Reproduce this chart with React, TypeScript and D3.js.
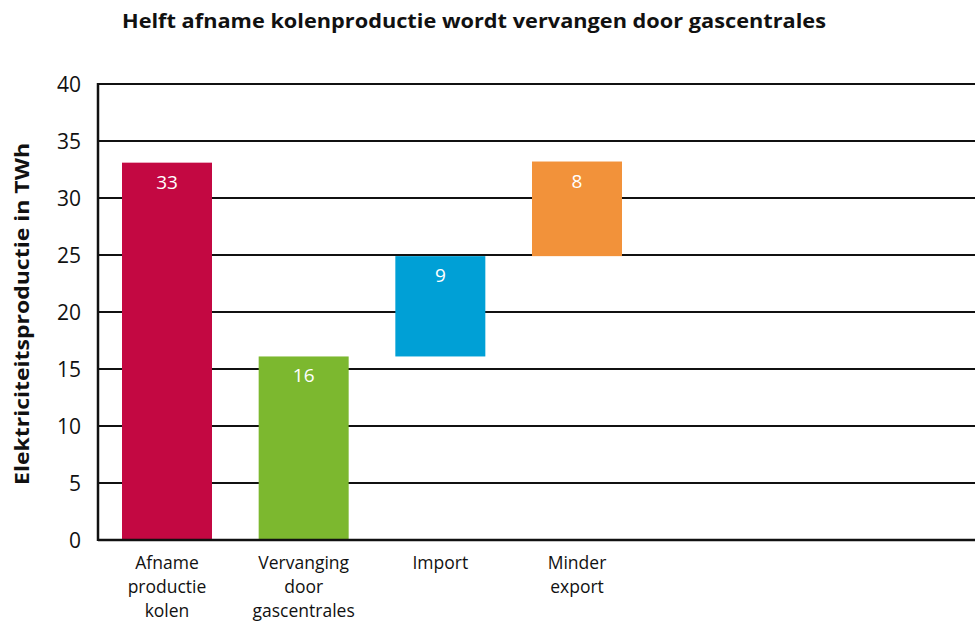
import React from "react";
import * as d3 from "d3";

const categories: string[][] = [
  ["Afname", "productie", "kolen"],
  ["Vervanging", "door", "gascentrales"],
  ["Import"],
  ["Minder", "export"],
];
const values: number[] = [33.1, 16.1, 8.8, 8.3];
const baseFrom: string[] = ["zero", "zero", "prev", "prev"];
const valueLabels: string[] = ["33", "16", "9", "8"];
const colors: string[] = ["#C30842", "#7CB82F", "#00A0D6", "#F2923A"];
const yTicks: number[] = [0, 5, 10, 15, 20, 25, 30, 35, 40];

const title = "Helft afname kolenproductie wordt vervangen door gascentrales";
const yTitle = "Elektriciteitsproductie in TWh";

const W = 975;
const H = 623;
const FONT = "'Open Sans', 'DejaVu Sans', sans-serif";

export default function App() {
  const keys = categories.map((c) => c.join(" "));
  const x = d3.scaleBand<string>().domain(keys).range([122, 622]).paddingInner(0.3415).paddingOuter(0);
  const y = d3.scaleLinear().domain([0, 40]).range([540, 84]);
  const axisX = 98;

  const segs: { lo: number; hi: number }[] = [];
  let prevTop = 0;
  values.forEach((v, i) => {
    const lo = baseFrom[i] === "zero" ? 0 : prevTop;
    const hi = lo + v;
    segs.push({ lo, hi });
    prevTop = hi;
  });

  return (
    <svg width={W} height={H} style={{ position: "absolute", left: 0, top: 0, background: "#fff" }}>
      <rect x={0} y={0} width={W} height={H} fill="#fff" />
      <text x={122} y={28} fontFamily={FONT} fontWeight={700} fontSize={19} fill="#111"
        textLength={704} lengthAdjust="spacingAndGlyphs">{title}</text>

      {yTicks.map((t) => (
        <g key={t}>
          {t > 0 && (
            <line x1={axisX} x2={W} y1={y(t)} y2={y(t)} stroke="#111" strokeWidth={2} />
          )}
          <text x={81} y={y(t)} dy="0.36em" textAnchor="end" fontFamily={FONT} fontSize={21} fill="#111">{t}</text>
        </g>
      ))}

      {segs.map((s, i) => (
        <g key={keys[i]}>
          <rect x={x(keys[i])} y={y(s.hi)} width={x.bandwidth()} height={y(s.lo) - y(s.hi)} fill={colors[i]} />
          <text x={(x(keys[i]) as number) + x.bandwidth() / 2} y={y(s.hi) + 26} textAnchor="middle"
            fontFamily={FONT} fontSize={19} fill="#fff">{valueLabels[i]}</text>
        </g>
      ))}

      <line x1={axisX} x2={W} y1={y(0)} y2={y(0)} stroke="#111" strokeWidth={2.5} />
      <line x1={axisX} x2={axisX} y1={y(40) - 1} y2={y(0) + 1} stroke="#111" strokeWidth={2.5} />

      {categories.map((lines, i) => (
        <text key={keys[i]} textAnchor="middle" fontFamily={FONT} fontSize={17.5} fill="#111">
          {lines.map((ln, j) => (
            <tspan key={j} x={(x(keys[i]) as number) + x.bandwidth() / 2} y={569 + j * 24}>{ln}</tspan>
          ))}
        </text>
      ))}

      <text transform={`translate(29,${(y(0) + y(40)) / 2 + 2}) rotate(-90)`} textAnchor="middle"
        fontFamily={FONT} fontWeight={700} fontSize={20} fill="#111" textLength={342} lengthAdjust="spacingAndGlyphs">{yTitle}</text>
    </svg>
  );
}
